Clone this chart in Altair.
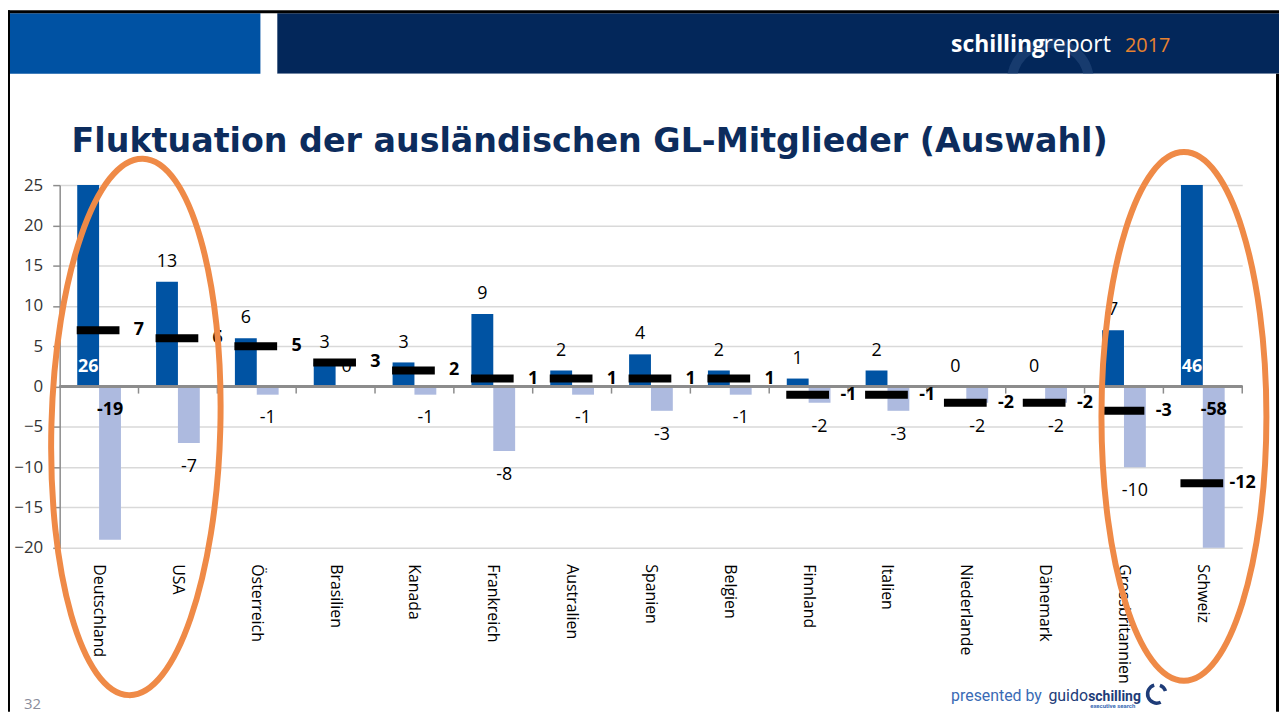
import math
import altair as alt
import pandas as pd

# ---------------- data ----------------
countries = ["Deutschland", "USA", "Österreich", "Brasilien", "Kanada", "Frankreich",
             "Australien", "Spanien", "Belgien", "Finnland", "Italien", "Niederlande",
             "Dänemark", "Grossbritannien", "Schweiz"]
eintritte = [26, 13, 6, 3, 3, 9, 2, 4, 2, 1, 2, 0, 0, 7, 46]
austritte = [-19, -7, -1, 0, -1, -8, -1, -3, -1, -2, -3, -2, -2, -10, -58]
saldo = [7, 6, 5, 3, 2, 1, 1, 1, 1, -1, -1, -2, -2, -3, -12]
highlighted = ["Deutschland", "Schweiz"]
y_ticks = [-20, -15, -10, -5, 0, 5, 10, 15, 20, 25]

title_text = "Fluktuation der ausländischen GL-Mitglieder (Auswahl)"

# ---------------- geometry / style ----------------
W, H = 1190, 365
PAD_L, PAD_T, PAD_R, PAD_B = 52, 176, 37, 165
BAND = W / len(countries)
OX, OY = 8 + PAD_L, 8 + PAD_T  # page coords of plot origin


def px(x):
    return x - OX


def py(y):
    return y - OY


DARK = "#0053A3"
LIGHT = "#ADBADF"
ORANGE = "#EF8A47"
NAVY = "#03275A"
TITLE_C = "#0C2C5D"
GREY = "#8C8C8C"
FONT = "Open Sans"

df = pd.DataFrame({"country": countries, "ein": eintritte, "aus": austritte, "saldo": saldo})
df["ein_t"] = df["ein"].astype(str)
df["aus_t"] = df["aus"].astype(str)
df["saldo_t"] = df["saldo"].astype(str)
df["hl"] = df["country"].isin(highlighted)
df["zero"] = 0

yscale = alt.Scale(domain=[y_ticks[0], y_ticks[-1]], nice=False, clamp=True, zero=False)
X = alt.X("country:N", sort=countries, title=None,
          scale=alt.Scale(paddingInner=0, paddingOuter=0))


def Y(field):
    return alt.Y(field, scale=yscale, title=None,
                 axis=alt.Axis(values=y_ticks))


base = alt.Chart(df)
dummy = alt.Chart(pd.DataFrame({"d": [0]}))

bars_in = base.mark_bar(size=22, xOffset=-11, color=DARK).encode(x=X, y=Y("ein:Q"))
bars_out = base.mark_bar(size=22, xOffset=11, color=LIGHT).encode(x=X, y=Y("aus:Q"))

zero_line = base.mark_rule(color=GREY, strokeWidth=1.5).encode(y=alt.datum(0))
bound_ticks = base.mark_tick(orient="vertical", size=7, thickness=1.5, color=GREY, opacity=1,
                             xOffset=BAND / 2, yOffset=3.5).encode(x=X, y=alt.datum(0))

net_ticks = base.mark_tick(size=43, thickness=8, color="black", opacity=1, xOffset=-1).encode(
    x=X, y=Y("saldo:Q"))

lab_kw = dict(font=FONT, fontSize=18, baseline="middle", align="center")
lab_in = base.transform_filter("!datum.hl").mark_text(
    dy=-20, xOffset=-11, color="black", **lab_kw).encode(x=X, y=Y("ein:Q"), text="ein_t:N")
lab_out_neg = base.transform_filter("!datum.hl && datum.aus < 0").mark_text(
    dy=24, xOffset=11, color="black", **lab_kw).encode(x=X, y=Y("aus:Q"), text="aus_t:N")
lab_out_zero = base.transform_filter("!datum.hl && datum.aus >= 0").mark_text(
    dy=-20, xOffset=11, color="black", **lab_kw).encode(x=X, y=Y("aus:Q"), text="aus_t:N")
lab_hl_in = base.transform_filter("datum.hl").mark_text(
    dy=-20, xOffset=-11, color="white", fontWeight="bold", **lab_kw).encode(
    x=X, y=Y("zero:Q"), text="ein_t:N")
lab_hl_out = base.transform_filter("datum.hl").mark_text(
    dy=24, xOffset=11, color="black", fontWeight="bold", **lab_kw).encode(
    x=X, y=Y("zero:Q"), text="aus_t:N")
lab_net = base.mark_text(xOffset=40, color="black", fontWeight="bold", **lab_kw).encode(
    x=X, y=Y("saldo:Q"), text="saldo_t:N")


def ellipse_path(r):
    return f"M {-r} 0 A {r} 1 0 1 0 {r} 0 A {r} 1 0 1 0 {-r} 0 Z"


ell_left = base.transform_filter(alt.datum.country == highlighted[0]).transform_calculate(
    cy="-5").mark_point(shape=ellipse_path(85 / 270), size=540 ** 2, filled=False,
                         strokeWidth=6, color=ORANGE, opacity=1, angle=1.5,
                         xOffset=37).encode(x=X, y=Y("cy:Q"))
ell_right = base.transform_filter(alt.datum.country == highlighted[1]).transform_calculate(
    cy="-3.7").mark_point(shape=ellipse_path(83 / 266), size=532 ** 2, filled=False,
                           strokeWidth=6, color=ORANGE, opacity=1,
                           xOffset=-19).encode(x=X, y=Y("cy:Q"))


def rect(x1, y1, x2, y2, color):
    return dummy.mark_rect(color=color).encode(
        x=alt.value(px(x1)), x2=alt.value(px(x2)), y=alt.value(py(y1)), y2=alt.value(py(y2)))


def text(t, x, y, size, color, weight="normal", font=FONT, align="left"):
    return dummy.mark_text(text=t, font=font, fontSize=size, color=color, fontWeight=weight,
                           align=align, baseline="alphabetic").encode(
        x=alt.value(px(x)), y=alt.value(py(y)))


deco = [
    rect(8, 11, 262, 72, "#0052A3"),
    rect(279, 11, 1287, 72, NAVY),
    dummy.mark_arc(theta=2 * math.pi - 1.6, theta2=2 * math.pi + 1.6, innerRadius=34,
                   outerRadius=44, color="#173B6E").encode(
        x=alt.value(px(1057)), y=alt.value(py(80))),
    rect(279, 72, 1287, 110, "white"),
    rect(8, 8, 1287, 11, "black"),
    rect(8, 8, 10, 714, "black"),
    rect(1284, 72, 1287, 714, "black"),
    text("schilling", 957, 50, 23, "white", "bold"),
    text("report", 1050, 50, 23, "white"),
    text("2017", 1132, 50, 20, "#E8822F"),
    text(title_text, 72, 151, 33.5, TITLE_C, "bold", "DejaVu Sans"),
    text("32", 24, 711, 15, "#8A8D9C"),
    text("presented by", 957, 703, 16, "#3A6BB5", font="Roboto"),
    text("guido", 1055, 703, 16, "#1E3C78", font="Roboto"),
    text("schilling", 1095, 703, 14, "#1E3C78", "bold", font="Roboto"),
    text("executive search", 1097, 710, 6, "#3A6BB5", "bold", font="Roboto"),
    dummy.mark_arc(theta=2.7, theta2=6.0, innerRadius=7.5, outerRadius=11,
                   color="#1E3C78").encode(x=alt.value(px(1164)), y=alt.value(py(696))),
    dummy.mark_arc(theta=0.35, theta2=1.25, innerRadius=7.5, outerRadius=11,
                   color="#1E3C78").encode(x=alt.value(px(1164)), y=alt.value(py(696))),
]

chart = alt.layer(
    bars_in, bars_out, zero_line, bound_ticks, net_ticks,
    lab_in, lab_out_neg, lab_out_zero, lab_hl_in, lab_hl_out, lab_net,
    ell_left, ell_right, *deco,
).properties(
    width=W, height=H,
    autosize=alt.AutoSizeParams(type="none"),
    padding={"left": PAD_L, "top": PAD_T, "right": PAD_R, "bottom": PAD_B},
    background="white",
).configure_view(stroke=None).configure_axisY(
    grid=True, gridColor="#D9D9D9", gridWidth=1.5, domainColor=GREY, domainWidth=1.5,
    tickColor=GREY, tickSize=7, tickWidth=1.5, labelFont=FONT, labelFontSize=17,
    labelColor="#333333", labelPadding=10,
).configure_axisX(
    labelAngle=90, labelAlign="left", labelBaseline="middle", labelPadding=16,
    labelFont=FONT, labelFontSize=16, labelColor="black", labelLimit=300,
    domain=False, ticks=False, grid=False,
)

chart.save("out.html", embed_options={"renderer": "svg", "actions": False})
